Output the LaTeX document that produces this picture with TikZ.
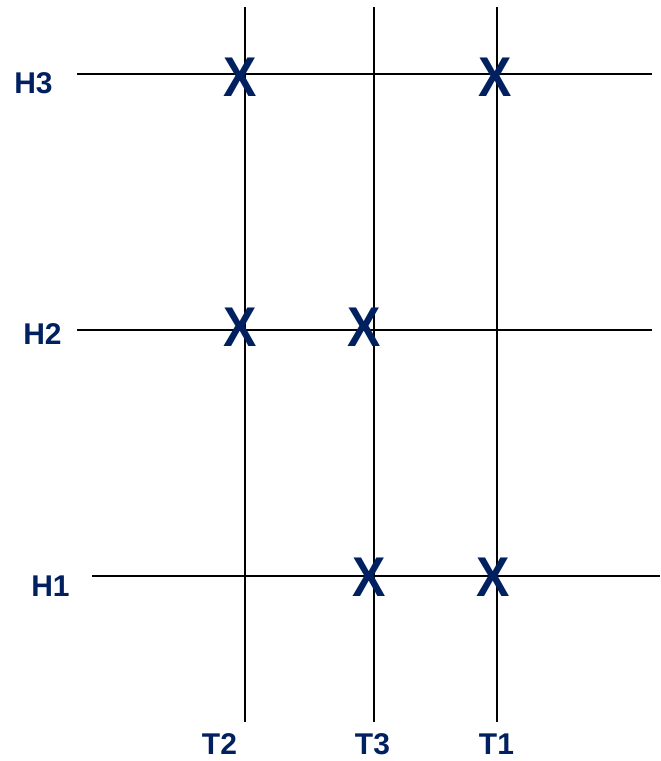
\documentclass[tikz,border=0pt]{standalone}
\usepackage{fontspec}
\setmainfont{Liberation Sans}
\definecolor{navy}{RGB}{0,32,96}
\begin{document}
\begin{tikzpicture}[x=1pt,y=-1pt,
  gridline/.style={draw=black,line width=2pt},
  lbl/.style={inner sep=0pt,text=navy,font=\fontsize{30}{30}\selectfont\bfseries},
  cross/.style={inner sep=0pt,text=navy,font=\fontsize{50}{50}\selectfont\bfseries}]
\useasboundingbox (0,0) rectangle (661,761);
% vertical line endpoints
\coordinate (t2top) at (244.5,7);  \coordinate (t2bot) at (244.5,722);
\coordinate (t3top) at (374,7);    \coordinate (t3bot) at (374,722);
\coordinate (t1top) at (497,7);    \coordinate (t1bot) at (497,722);
% horizontal line endpoints
\coordinate (h3l) at (77,74);  \coordinate (h3r) at (652,74);
\coordinate (h2l) at (77,330); \coordinate (h2r) at (652,330);
\coordinate (h1l) at (92,576); \coordinate (h1r) at (660,576);
\draw[gridline] (t2top) -- (t2bot);
\draw[gridline] (t3top) -- (t3bot);
\draw[gridline] (t1top) -- (t1bot);
\draw[gridline] (h3l) -- (h3r);
\draw[gridline] (h2l) -- (h2r);
\draw[gridline] (h1l) -- (h1r);
% labels
\node[lbl] (H3) at (33.5,83.5) {H3};
\node[lbl] (H2) at (42.5,334.5) {H2};
\node[lbl] (H1) at (50.5,586) {H1};
\node[lbl] (T2) at (219.5,744.5) {T2};
\node[lbl] (T3) at (372.5,744.5) {T3};
\node[lbl] (T1) at (496.5,744.5) {T1};
% crosses
\node[cross] (x1) at (240.5,77) {\scalebox{1}[1.12]{X}};
\node[cross] (x2) at (495.5,77) {\scalebox{1}[1.12]{X}};
\node[cross] (x3) at (240.5,327.5) {\scalebox{1}[1.12]{X}};
\node[cross] (x4) at (364,327.5) {\scalebox{1}[1.12]{X}};
\node[cross] (x5) at (368.7,577.5) {\scalebox{1}[1.12]{X}};
\node[cross] (x6) at (493,577.5) {\scalebox{1}[1.12]{X}};
\end{tikzpicture}
\end{document}
